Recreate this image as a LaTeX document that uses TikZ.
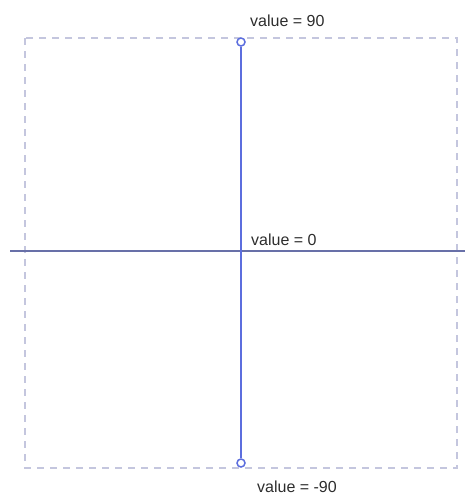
\documentclass[tikz,border=0pt]{standalone}
\usepackage{fontspec}
\setmainfont{Liberation Sans}
\definecolor{frame}{RGB}{196,198,222}
\definecolor{axis}{RGB}{104,112,168}
\definecolor{pole}{RGB}{92,110,222}
\definecolor{txt}{RGB}{45,45,45}
\tikzset{
  bounds/.style={draw=frame,line width=1.3pt,dash pattern=on 7pt off 6pt},
  hline/.style={draw=axis,line width=2.2pt},
  vline/.style={draw=pole,line width=1.8pt},
  knob/.style={circle,draw=pole,fill=white,line width=1.5pt,inner sep=0pt,minimum size=8pt},
  lbl/.style={anchor=west,text=txt,font=\fontsize{16}{19}\selectfont,inner sep=0pt}
}
\begin{document}
\begin{tikzpicture}[x=1pt,y=-1pt]
\useasboundingbox (0,0) rectangle (465,496);
\draw[bounds] (25,38) rectangle (457,468);
\coordinate (west) at (10,251);
\coordinate (east) at (465,251);
\draw[hline] (west) -- (east);
\node[knob] (top) at (241,42) {};
\node[knob] (bot) at (241,463) {};
\draw[vline] (top) -- (bot);
\node[lbl] (ltop) at (250,21) {value = 90};
\node[lbl] (lmid) at (251,240) {value = 0};
\node[lbl] (lbot) at (257,487) {value = -90};
\end{tikzpicture}
\end{document}
